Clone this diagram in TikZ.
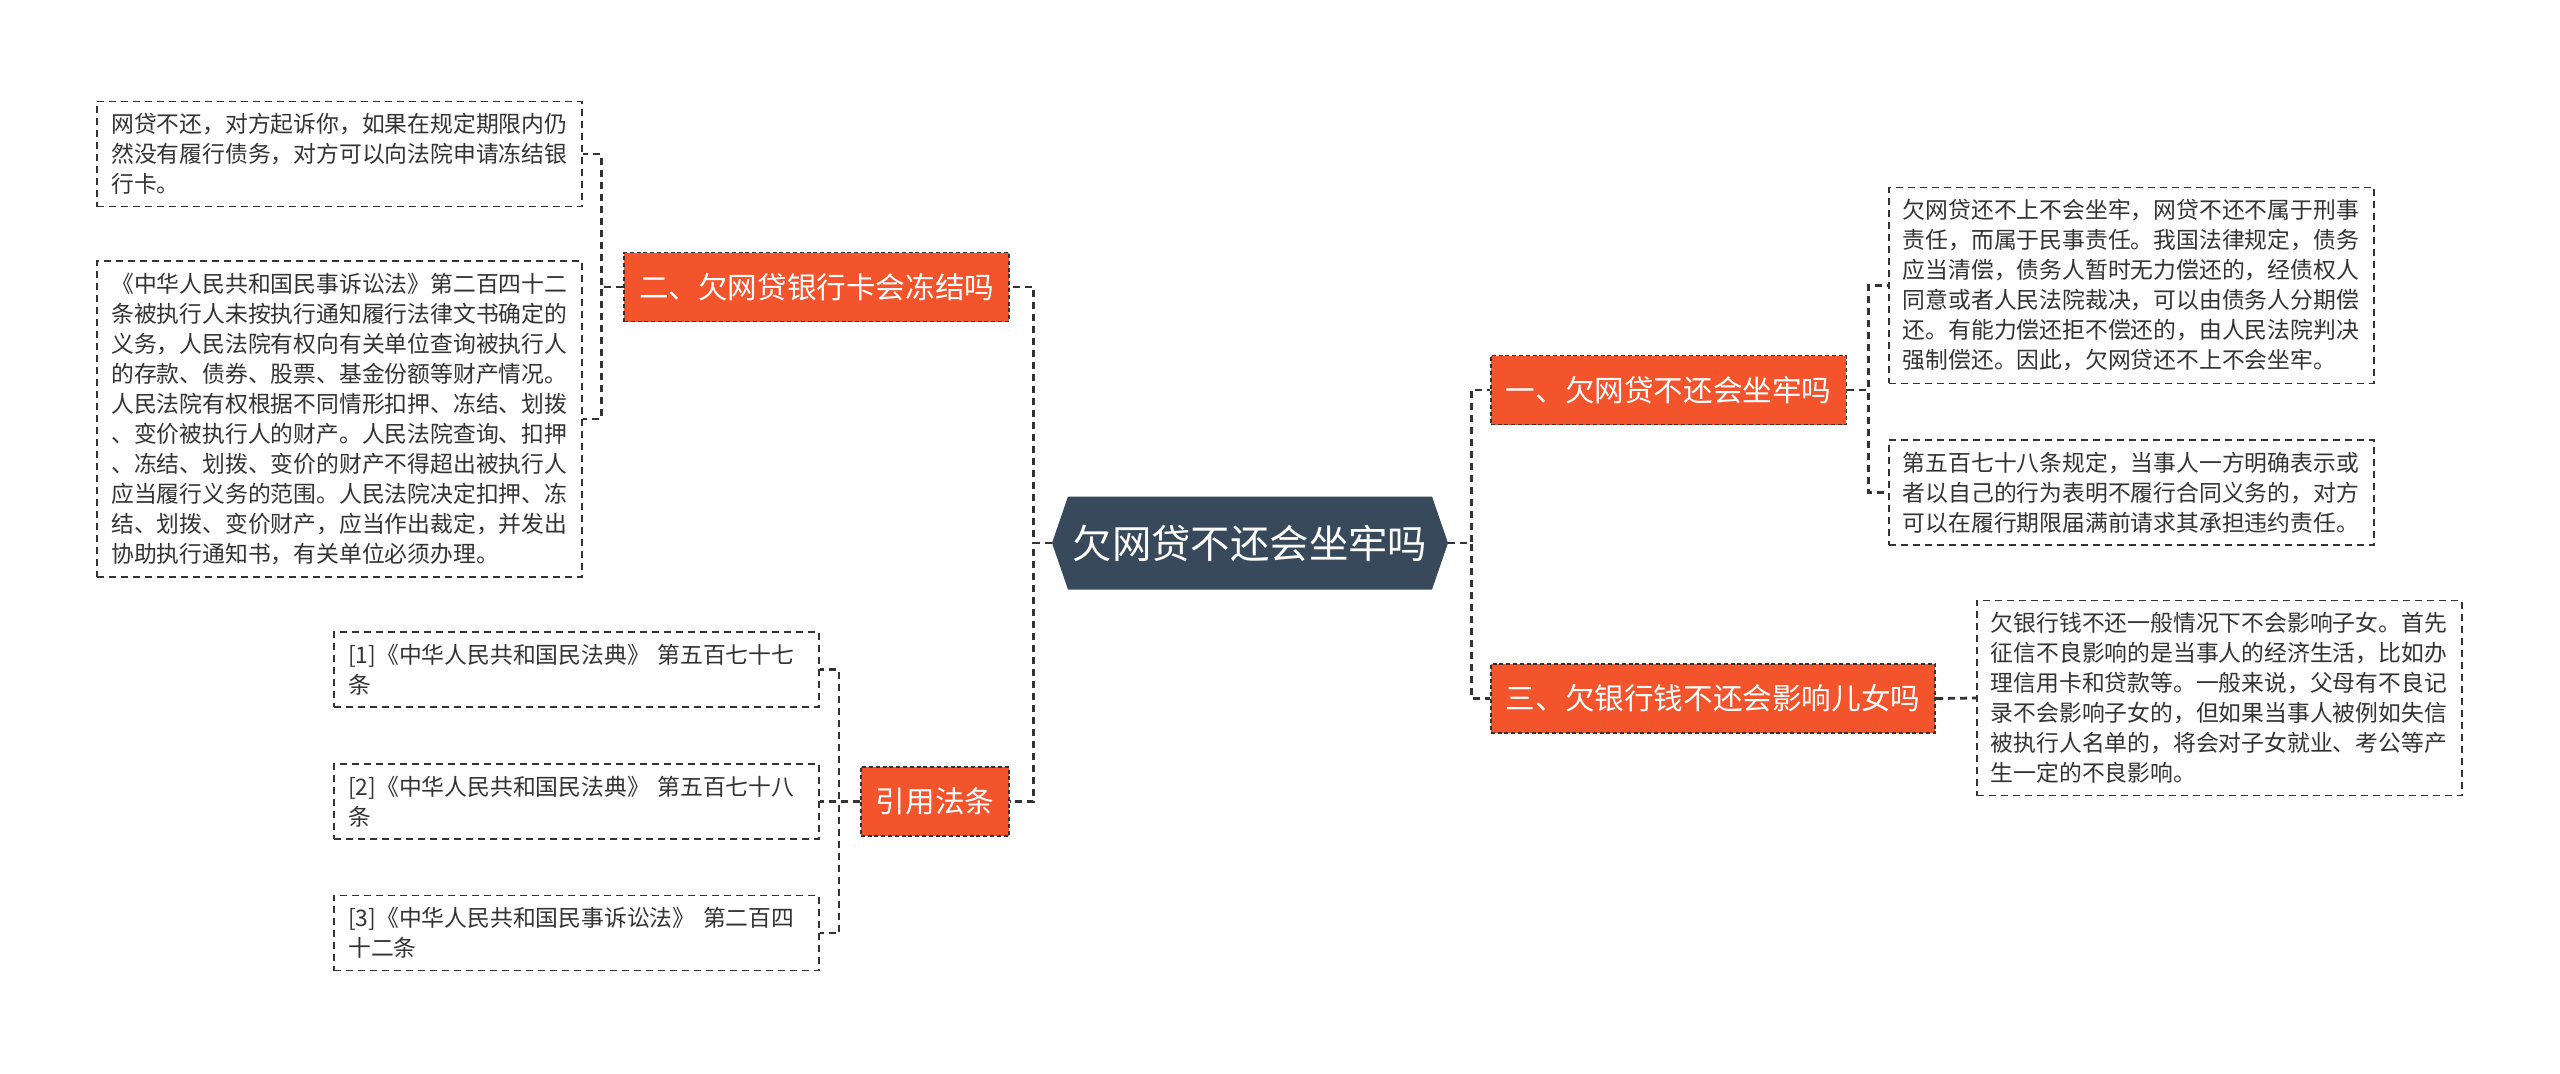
\documentclass[tikz,border=0pt]{standalone}
\usepackage{fontspec}
\newfontfamily\cjk{Noto Sans CJK SC}
\definecolor{subred}{RGB}{243,84,44}
\definecolor{topicblue}{RGB}{55,73,91}
\definecolor{inkgray}{RGB}{51,51,51}
\begin{document}
\begin{tikzpicture}
	[x=0.5pt,y=-0.5pt,
	 link/.style={draw=inkgray,line width=1.4pt,dash pattern=on 3.5pt off 2.5pt},
	 note/.style={draw=inkgray,line width=0.8pt,dash pattern=on 3.5pt off 2.5pt,text=inkgray,align=left,text width=228.5pt,inner xsep=7pt,inner ysep=6pt,font=\cjk\fontsize{11.4}{15}\selectfont},
	 sub/.style={draw=inkgray,line width=0.8pt,dash pattern=on 2pt off 1.4pt,fill=subred,text=white,inner xsep=7.5pt,minimum height=34.5pt,font=\cjk\fontsize{14.8}{18}\selectfont},
	 topic/.style={minimum width=198pt,minimum height=46.5pt,inner sep=0pt,text=white,font=\cjk\fontsize{19.7}{24}\selectfont,
		path picture={\fill[topicblue] (path picture bounding box.west) -- ([xshift=8pt]path picture bounding box.north west) -- ([xshift=-8pt]path picture bounding box.north east) -- (path picture bounding box.east) -- ([xshift=-8pt]path picture bounding box.south east) -- ([xshift=8pt]path picture bounding box.south west) -- cycle;}}]
	\useasboundingbox[fill=white] (0,0) rectangle (2560,1073);

	\node[topic] (q) at (1250,543) {欠网贷不还会坐牢吗};

	\node[sub,anchor=east] (b2) at (1010,287) {二、欠网贷银行卡会冻结吗};
	\node[sub,anchor=east] (law) at (1010,801.5) {引用法条};
	\node[sub,anchor=west] (b1) at (1490,390) {一、欠网贷不还会坐牢吗};
	\node[sub,anchor=west] (b3) at (1490,698.5) {三、欠银行钱不还会影响儿女吗};

	\node[note,anchor=east] (n1) at (583,154) {网贷不还，对方起诉你，如果在规定期限内仍\\然没有履行债务，对方可以向法院申请冻结银\\行卡。};
	\node[note,anchor=east] (n2) at (583,419) {《中华人民共和国民事诉讼法》第二百四十二\\条被执行人未按执行通知履行法律文书确定的\\义务，人民法院有权向有关单位查询被执行人\\的存款、债券、股票、基金份额等财产情况。\\人民法院有权根据不同情形扣押、冻结、划拨\\、变价被执行人的财产。人民法院查询、扣押\\、冻结、划拨、变价的财产不得超出被执行人\\应当履行义务的范围。人民法院决定扣押、冻\\结、划拨、变价财产，应当作出裁定，并发出\\协助执行通知书，有关单位必须办理。};
	\node[note,anchor=west] (r1) at (1888,285.5) {欠网贷还不上不会坐牢，网贷不还不属于刑事\\责任，而属于民事责任。我国法律规定，债务\\应当清偿，债务人暂时无力偿还的，经债权人\\同意或者人民法院裁决，可以由债务人分期偿\\还。有能力偿还拒不偿还的，由人民法院判决\\强制偿还。因此，欠网贷还不上不会坐牢。};
	\node[note,anchor=west] (r2) at (1888,492.5) {第五百七十八条规定，当事人一方明确表示或\\者以自己的行为表明不履行合同义务的，对方\\可以在履行期限届满前请求其承担违约责任。};
	\node[note,anchor=west] (r3) at (1976,698) {欠银行钱不还一般情况下不会影响子女。首先\\征信不良影响的是当事人的经济生活，比如办\\理信用卡和贷款等。一般来说，父母有不良记\\录不会影响子女的，但如果当事人被例如失信\\被执行人名单的，将会对子女就业、考公等产\\生一定的不良影响。};
	\node[note,anchor=east] (c1) at (820,669.5) {{[1]}《中华人民共和国民法典》~第五百七十七\\条};
	\node[note,anchor=east] (c2) at (820,801.5) {{[2]}《中华人民共和国民法典》~第五百七十八\\条};
	\node[note,anchor=east] (c3) at (820,933) {{[3]}《中华人民共和国民事诉讼法》~第二百四\\十二条};

	\draw[link] (q.west) -- ++(-18,0) |- (b2.east);
	\draw[link] (q.west) -- ++(-18,0) |- (law.east);
	\draw[link] (q.east) -- ++(23,0) |- (b1.west);
	\draw[link] (q.east) -- ++(23,0) |- (b3.west);
	\draw[link] (b2.west) -- ++(-22,0) |- (n1.east);
	\draw[link] (b2.west) -- ++(-22,0) |- (n2.east);
	\draw[link] (b1.east) -- ++(21,0) |- (r1.west);
	\draw[link] (b1.east) -- ++(21,0) |- (r2.west);
	\draw[link] (b3.east) -- (r3.west);
	\draw[link] (law.west) -- ++(-21,0) |- (c1.east);
	\draw[link] (law.west) -- ++(-21,0) |- (c2.east);
	\draw[link] (law.west) -- ++(-21,0) |- (c3.east);
\end{tikzpicture}
\end{document}
